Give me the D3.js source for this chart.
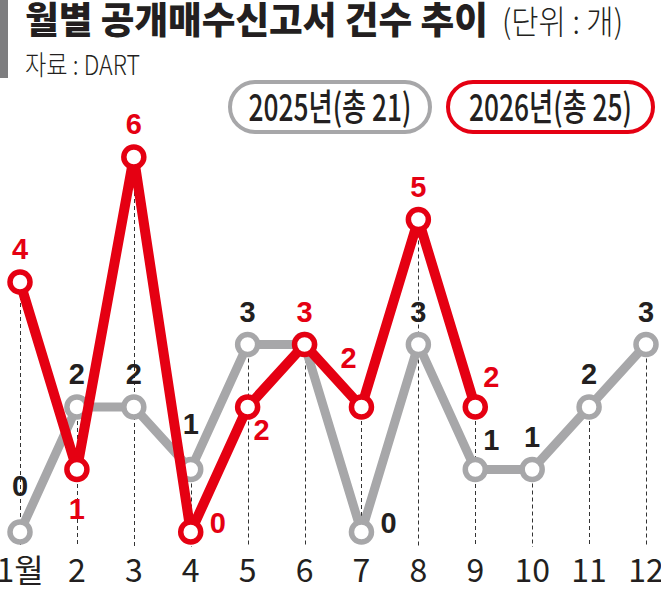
<!DOCTYPE html>
<html>
<head>
<meta charset="utf-8">
<script src="https://cdn.jsdelivr.net/npm/d3@7"></script>
<style>
  body { margin: 0; background: #fff; }
  svg { display: block; }
</style>
</head>
<body>
<div id="graph"></div>
<script>
// 월별 공개매수신고서 건수
let months = [1, 2, 3, 4, 5, 6, 7, 8, 9, 10, 11, 12];
let monthLabels = ["1월", "2", "3", "4", "5", "6", "7", "8", "9", "10", "11", "12"];
let years = ["2025", "2026"];
let counts2025 = [0, 2, 2, 1, 3, 3, 0, 3, 1, 1, 2, 3];
let counts2026 = [4, 1, 6, 0, 2, 3, 2, 5, 2];
// 숫자 라벨 위치 (t: 위, tt: 더 위, b: 아래, r: 오른쪽, br, tl, tr, none)
let place2025 = ["tt", "t", "t", "tt", "t", "none", "r", "t", "tr", "t", "t", "t"];
let place2026 = ["t", "b", "t", "r", "br", "t", "tl", "t", "tr"];

let width = 661, height = 591;
let red = "#e50012", grey = "#a7a7a9", ink = "#231f20";

let svg = d3.select("#graph")
    .append("svg")
    .attr("width", width)
    .attr("height", height);

let x = d3.scaleLinear()
    .domain([1, 12])
    .range([20, 646]);

let y = d3.scaleLinear()
    .domain([0, 6])
    .range([532, 157]);

let bottomY = 547;

let offsets = {
    t: [0, -33], tt: [0, -46], b: [0, 39], r: [27, -9],
    br: [14, 23], tl: [-13, -49], tr: [16, -30]
};

// 좁은 글꼴 대신 가로로 눌러서 폭 맞추기
function squeeze(text, px, py, target, anchor) {
    let w = text.node().getComputedTextLength();
    let s = Math.min(1, target / w);
    text.attr("x", 0).attr("y", 0)
        .attr("text-anchor", anchor || "start")
        .attr("transform", "translate(" + px + "," + py + ") scale(" + s + ",1)");
}

// 제목 영역
svg.append("rect")
    .attr("x", 0).attr("y", 0)
    .attr("width", 8).attr("height", 78)
    .attr("fill", "#7d7d7f");

let title = svg.append("text")
    .attr("font-family", "'Noto Sans CJK KR', sans-serif")
    .attr("font-weight", 900)
    .attr("font-size", 37)
    .attr("fill", ink)
    .text("월별 공개매수신고서 건수 추이");
squeeze(title, 25, 34, 463);

let unit = svg.append("text")
    .attr("font-family", "'Noto Sans CJK KR', sans-serif")
    .attr("font-weight", 300)
    .attr("font-size", 33)
    .attr("fill", ink)
    .text("(단위 : 개)");
squeeze(unit, 502, 34, 121);

let source = svg.append("text")
    .attr("font-family", "'Noto Sans CJK KR', sans-serif")
    .attr("font-weight", 300)
    .attr("font-size", 27)
    .attr("fill", ink)
    .text("자료 : DART");
squeeze(source, 25, 75, 115);

// 범례
let legend = [
    { label: years[0] + "년(총 " + d3.sum(counts2025) + ")", color: grey, x0: 230, w: 200 },
    { label: years[1] + "년(총 " + d3.sum(counts2026) + ")", color: red, x0: 448, w: 205 }
];

legend.forEach(d => {
    svg.append("rect")
        .attr("x", d.x0)
        .attr("y", 82)
        .attr("width", d.w)
        .attr("height", 50)
        .attr("rx", 25)
        .attr("fill", "#fff")
        .attr("stroke", d.color)
        .attr("stroke-width", 4);

    let t = svg.append("text")
        .attr("font-family", "'Noto Sans CJK KR', sans-serif")
        .attr("font-weight", 500)
        .attr("font-size", 37)
        .attr("fill", ink)
        .text(d.label);
    squeeze(t, d.x0 + d.w / 2, 121, 163, "middle");
});

// 점선 가이드
svg.append("g")
    .selectAll("line")
    .data(months)
    .enter()
    .append("line")
    .attr("x1", d => Math.round(x(d)) + 0.5)
    .attr("x2", d => Math.round(x(d)) + 0.5)
    .attr("y1", (d, i) => y(Math.max(counts2025[i], i < counts2026.length ? counts2026[i] : 0)))
    .attr("y2", bottomY)
    .attr("stroke", "#333")
    .attr("stroke-width", 1)
    .attr("stroke-dasharray", "4,3");

// x축 라벨
svg.append("g")
    .selectAll("text")
    .data(months)
    .enter()
    .append("text")
    .attr("x", d => x(d))
    .attr("y", 581.5)
    .attr("text-anchor", "middle")
    .attr("font-family", "'Liberation Sans Narrow', 'Noto Sans CJK KR', sans-serif")
    .attr("font-size", 32)
    .attr("fill", ink)
    .text((d, i) => monthLabels[i]);

let line = d3.line()
    .x((d, i) => x(months[i]))
    .y(d => y(d));

function drawSeries(values, color, strokeW) {
    svg.append("path")
        .datum(values)
        .attr("d", line)
        .attr("fill", "none")
        .attr("stroke", color)
        .attr("stroke-width", strokeW)
        .attr("stroke-linejoin", "round");

    svg.append("g")
        .selectAll("circle")
        .data(values)
        .enter()
        .append("circle")
        .attr("cx", (d, i) => x(months[i]))
        .attr("cy", d => y(d))
        .attr("r", 10)
        .attr("fill", "#fff")
        .attr("stroke", color)
        .attr("stroke-width", 5.5);
}

drawSeries(counts2025, grey, 9);
drawSeries(counts2026, red, 10);

function drawLabels(values, color, places) {
    let g = svg.append("g");
    values.forEach((v, i) => {
        if (places[i] === "none") return;
        let o = offsets[places[i]];
        g.append("text")
            .attr("x", x(months[i]) + o[0])
            .attr("y", y(v) + o[1])
            .attr("dy", "0.36em")
            .attr("text-anchor", "middle")
            .attr("font-family", "'Liberation Sans', Arial, sans-serif")
            .attr("font-weight", 700)
            .attr("font-size", 29)
            .attr("fill", color)
            .text(v);
    });
}

drawLabels(counts2025, ink, place2025);
drawLabels(counts2026, red, place2026);
</script>
</body>
</html>
